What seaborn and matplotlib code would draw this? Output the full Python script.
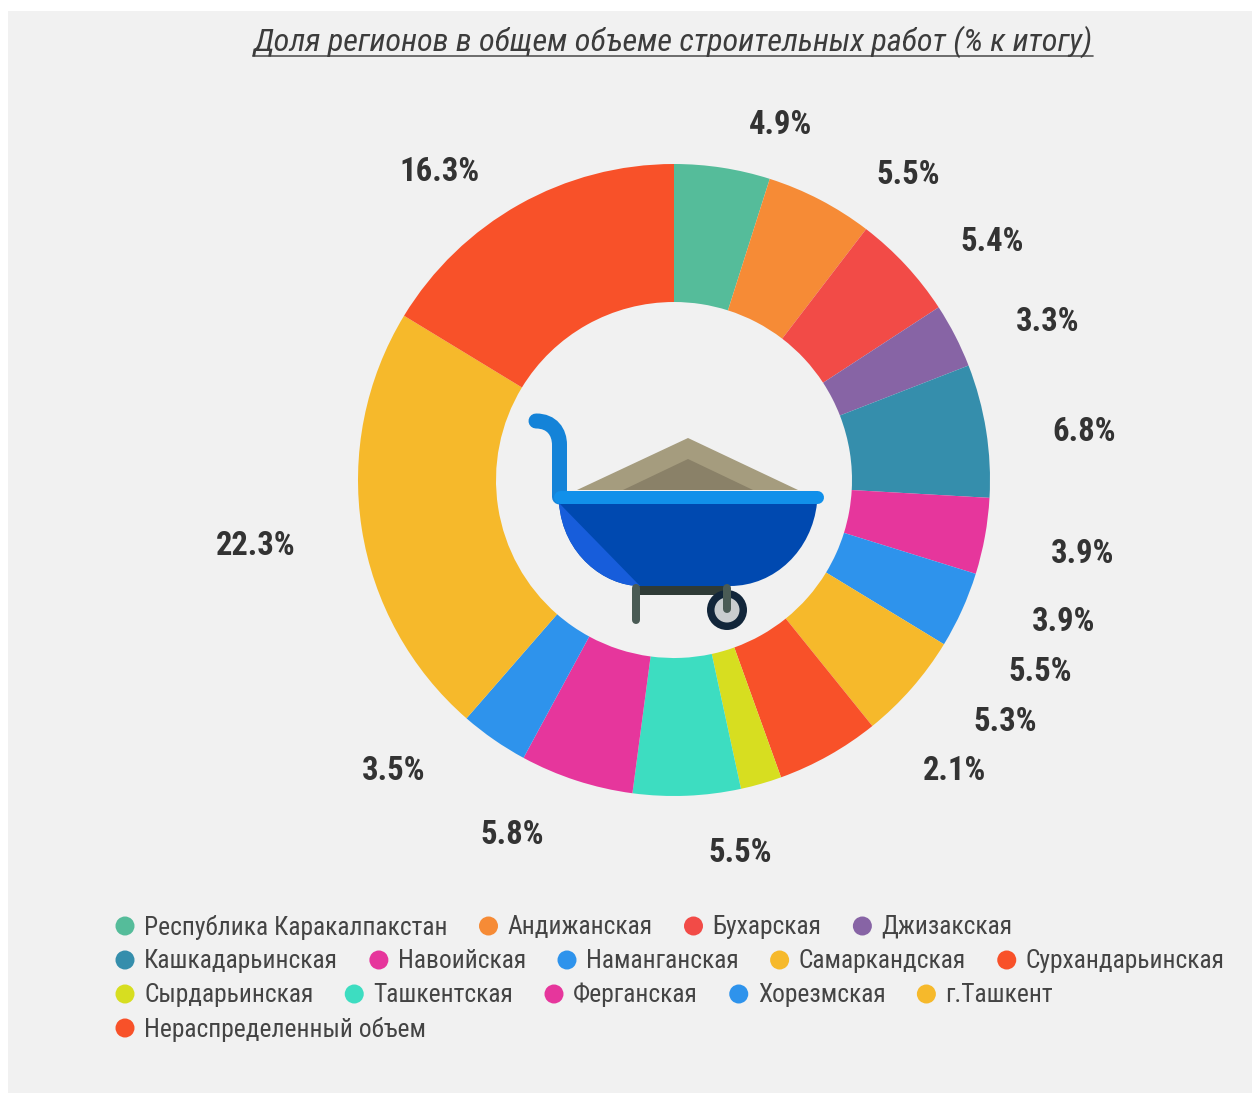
import matplotlib
matplotlib.use('Agg')
import matplotlib.pyplot as plt
import seaborn as sns
from matplotlib.patches import Circle, PathPatch, Polygon, Rectangle
from matplotlib.path import Path

regions = ['Республика Каракалпакстан', 'Андижанская', 'Бухарская', 'Джизакская',
           'Кашкадарьинская', 'Навоийская', 'Наманганская', 'Самаркандская', 'Сурхандарьинская',
           'Сырдарьинская', 'Ташкентская', 'Ферганская', 'Хорезмская', 'г.Ташкент',
           'Нераспределенный объем']
shares = [4.9, 5.5, 5.4, 3.3, 6.8, 3.9, 3.9, 5.5, 5.3, 2.1, 5.5, 5.8, 3.5, 22.3, 16.3]
colors = ['#55BC9A', '#F68B36', '#F24B47', '#8764A5', '#358EAC', '#E6369C', '#2E93EC', '#F6B92B',
          '#F85129', '#D7DE20', '#3DDDC1', '#E6369C', '#2E93EC', '#F6B92B', '#F85129']
title = 'Доля регионов в общем объеме строительных работ (% к итогу)'

# подписи стоят не по радиусу, поэтому центры заданы в пикселях
label_xy = [(780, 125), (908, 175), (992, 242), (1048, 322), (1084, 432), (1083, 554), (1064, 622),
            (1040, 672), (1005, 722), (955, 771), (740, 853), (512, 835), (394, 771), (256, 546),
            (439, 172)]
legend_rows = [4, 5, 5, 1]

W, H = 1252, 1095
CX, CY, R_OUT, R_IN = 674, 480, 316, 178

sns.set_theme(style='white')
plt.rcParams['font.family'] = ['Roboto Condensed', 'Liberation Sans Narrow', 'Roboto', 'DejaVu Sans']
palette = sns.color_palette(colors)

fig = plt.figure(figsize=(W / 100, H / 100), dpi=100, facecolor='white')

# фон и всё, что задано в пикселях
bg = fig.add_axes([0, 0, 1, 1])
bg.set_xlim(0, W)
bg.set_ylim(H, 0)
bg.axis('off')
bg.add_patch(Rectangle((8, 11), W - 8, 1082, fc='#F1F1F1', ec='none'))

# кольцо
ax = fig.add_axes([(CX - R_OUT) / W, 1 - (CY + R_OUT) / H, 2 * R_OUT / W, 2 * R_OUT / H])
ax.pie(shares, colors=palette, startangle=90, counterclock=False, radius=1,
       wedgeprops={'width': 1 - R_IN / R_OUT, 'linewidth': 0})
ax.set_xlim(-1, 1)
ax.set_ylim(-1, 1)
ax.set_facecolor('none')

# верхний слой для текста и тачки
top = fig.add_axes([0, 0, 1, 1])
top.set_xlim(0, W)
top.set_ylim(H, 0)
top.axis('off')
top.patch.set_alpha(0)

top.text(673, 42, title, fontsize=23.2, style='italic', color='#3C3C3C', ha='center', va='center')
top.plot([253, 1093], [55.5, 55.5], color='#555555', lw=1.2)

for share, (x, y) in zip(shares, label_xy):
    top.text(x, y, f'{share}%', fontsize=23.5, fontweight='bold', color='#333333', ha='center', va='center')

# легенда: строки собираются по ширине текста
renderer = fig.canvas.get_renderer()
i = 0
for row, count in enumerate(legend_rows):
    y = 926 + row * 34
    x = 125
    for name, col in zip(regions[i:i + count], palette[i:i + count]):
        top.add_patch(Circle((x, y), 9.5, fc=col, ec='none'))
        t = top.text(x + 19, y + 1, name, fontsize=18.4, color='#444444', ha='left', va='center')
        x = t.get_window_extent(renderer).x1 + 41
    i += count

# тачка
top.add_patch(Polygon([(577, 490), (688, 438), (798, 490)], fc='#A59C7E', ec='none'))
top.add_patch(Polygon([(623, 490), (688, 459), (753, 490)], fc='#8A8168', ec='none'))
px = 1 / 100 * 72
top.add_patch(PathPatch(Path([(536, 421), (552, 421), (559.5, 432), (559.5, 445), (559.5, 497)],
                             [Path.MOVETO, Path.CURVE4, Path.CURVE4, Path.CURVE4, Path.LINETO]),
                        fc='none', ec='#1483D8', lw=15 * px, capstyle='round'))
bowl = Path([(559, 503), (817, 503), (812, 550), (775, 586), (730, 586), (640, 586),
             (605, 586), (563, 555), (559, 503)],
            [Path.MOVETO, Path.LINETO, Path.CURVE4, Path.CURVE4, Path.CURVE4, Path.LINETO,
             Path.CURVE4, Path.CURVE4, Path.CURVE4])
top.add_patch(PathPatch(bowl, fc='#0049B0', ec='none'))
facet = Path([(559, 503), (640, 586), (605, 586), (563, 555), (559, 503)],
             [Path.MOVETO, Path.LINETO, Path.CURVE4, Path.CURVE4, Path.CURVE4])
top.add_patch(PathPatch(facet, fc='#175DDB', ec='none'))
top.plot([559.5, 816.5], [496.5, 496.5], color='#1190EA', lw=13 * px, solid_capstyle='round')
top.add_patch(Rectangle((636, 586), 90, 9, fc='#2F3B37', ec='none'))
top.plot([636, 636], [588, 620], color='#4A5B55', lw=8 * px, solid_capstyle='round')
top.add_patch(Circle((727, 610), 20, fc='#12263A', ec='none'))
top.add_patch(Circle((727, 610), 12.5, fc='#C9CDCF', ec='none'))
top.plot([727, 727], [588, 609], color='#4A5B55', lw=8 * px, solid_capstyle='round')

fig.savefig('out.png', dpi=100, facecolor='white')
